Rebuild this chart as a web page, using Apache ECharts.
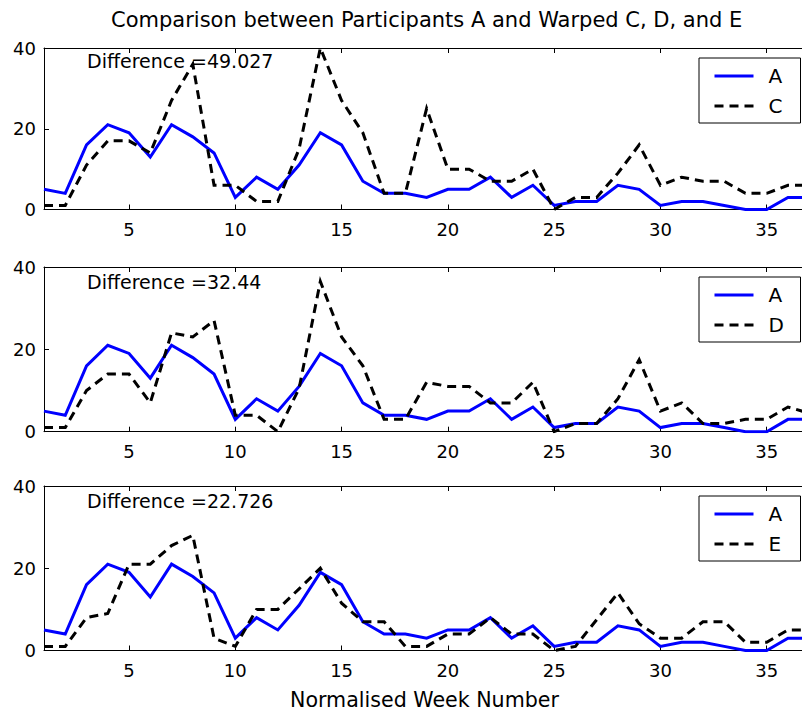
<!DOCTYPE html>
<html>
<head>
<meta charset="utf-8">
<script src="https://cdn.jsdelivr.net/npm/echarts@6/dist/echarts.min.js"></script>
<style>
  html, body { margin: 0; padding: 0; background: #fff; }
  #chart { width: 802px; height: 715px; }
</style>
</head>
<body>
<div id="chart"></div>
<script>
// week numbers (x) and weekly values
var weeks = [1,2,3,4,5,6,7,8,9,10,11,12,13,14,15,16,17,18,19,20,21,22,23,24,25,26,27,28,29,30,31,32,33,34,35,36,37];
var seriesA = [5,4,16,21,19,13,21,18,14,3,8,5,11,19,16,7,4,4,3,5,5,8,3,6,1,2,2,6,5,1,2,2,1,0,0,3,3];
var seriesC = [1,1,11,17,17,14,27,36,6,6,2,2,15,40,27,19,4,4,25,10,10,7,7,10,0,3,3,9,16,6,8,7,7,4,4,6,6];
var seriesD = [1,1,10,14,14,7,24,23,27,4,4,0,10.5,36.5,23,16,3,3,12,11,11,7,7,12,0,2,2,8,17.5,5,7,2,2,3,3,6,4.5];
var seriesE = [1,1,8,9,21,21,25.5,28,3,1,10,10,15,20,11.5,7,7,1,1,4,4,8,4,4,0,1,7.5,14,6.5,3,3,7,7,2,2,5,5];

var warpedNames = ['C', 'D', 'E'];
var warpedSeries = [seriesC, seriesD, seriesE];
var differences = ['49.027', '32.44', '22.726'];
var xTicks = [5, 10, 15, 20, 25, 30, 35];

var chart = echarts.init(document.getElementById('chart'), null, { renderer: 'svg' });

var FONT = 'DejaVu Sans';
// panel boxes: top and height in px
var panels = [
  { top: 48, height: 161.5 },
  { top: 267, height: 164.7 },
  { top: 486, height: 164.5 }
];
var xMin = 1, xMax = 36.66;

function pairs(vals) {
  return weeks.map(function (w, i) { return [w, vals[i]]; });
}

var grid = [], xAxis = [], yAxis = [], series = [], legend = [], graphic = [];

panels.forEach(function (p, i) {
  grid.push({ left: 44, right: -2, top: p.top, height: p.height, containLabel: false });

  xAxis.push({
    type: 'value', gridIndex: i, position: 'bottom', min: xMin, max: xMax,
    axisLine: { show: true, onZero: false, lineStyle: { color: '#000', width: 1 } },
    axisTick: { show: true, inside: true, length: 5, customValues: xTicks, lineStyle: { color: '#000' } },
    axisLabel: { show: true, customValues: xTicks, color: '#000', fontSize: 18, fontFamily: FONT, margin: 11 },
    splitLine: { show: false }
  });
  xAxis.push({
    type: 'value', gridIndex: i, position: 'top', min: xMin, max: xMax,
    axisLine: { show: true, onZero: false, lineStyle: { color: '#000', width: 1 } },
    axisTick: { show: true, inside: true, length: 5, customValues: xTicks, lineStyle: { color: '#000' } },
    axisLabel: { show: false },
    splitLine: { show: false }
  });
  yAxis.push({
    type: 'value', gridIndex: i, min: 0, max: 40, interval: 20,
    axisLine: { show: true, onZero: false, lineStyle: { color: '#000', width: 1 } },
    axisTick: { show: true, inside: true, length: 5, lineStyle: { color: '#000' } },
    axisLabel: { color: '#000', fontSize: 18, fontFamily: FONT, margin: 8 },
    splitLine: { show: false }
  });

  series.push({
    name: 'A', type: 'line', xAxisIndex: 2 * i, yAxisIndex: i,
    data: pairs(seriesA), symbol: 'none', clip: true,
    lineStyle: { color: '#0000ff', width: 3, join: 'miter' },
    itemStyle: { color: '#0000ff' }
  });
  series.push({
    name: warpedNames[i], type: 'line', xAxisIndex: 2 * i, yAxisIndex: i,
    data: pairs(warpedSeries[i]), symbol: 'none', clip: true,
    lineStyle: { color: '#000', width: 3, type: [9, 6], join: 'miter' },
    itemStyle: { color: '#000' }
  });

  legend.push({
    data: ['A', warpedNames[i]],
    orient: 'vertical', left: 699, top: p.top + 10,
    backgroundColor: '#fff', borderColor: '#000', borderWidth: 1,
    padding: [8, 14, 7, 14], itemGap: 10, itemWidth: 39, itemHeight: 14,
    selectedMode: false,
    itemStyle: { opacity: 0 },
    lineStyle: { width: 3 },
    textStyle: { color: '#000', fontSize: 20, fontFamily: FONT, lineHeight: 20, width: 18, padding: [0, 0, 0, 10] }
  });

  graphic.push({
    type: 'text', left: 87, top: p.top + (i === 0 ? 3 : 5),
    style: { text: 'Difference =' + differences[i], fontSize: 19, fontFamily: FONT, fill: '#000' }
  });
});

graphic.push({
  type: 'text', left: 111, top: 9,
  style: { text: 'Comparison between Participants A and Warped C, D, and E', fontSize: 21, fontFamily: FONT, fill: '#000' }
});
graphic.push({
  type: 'text', left: 290, top: 689,
  style: { text: 'Normalised Week Number', fontSize: 20.6, fontFamily: FONT, fill: '#000' }
});

chart.setOption({
  animation: false,
  backgroundColor: '#fff',
  grid: grid,
  xAxis: xAxis,
  yAxis: yAxis,
  legend: legend,
  graphic: graphic,
  series: series
});
</script>
</body>
</html>
